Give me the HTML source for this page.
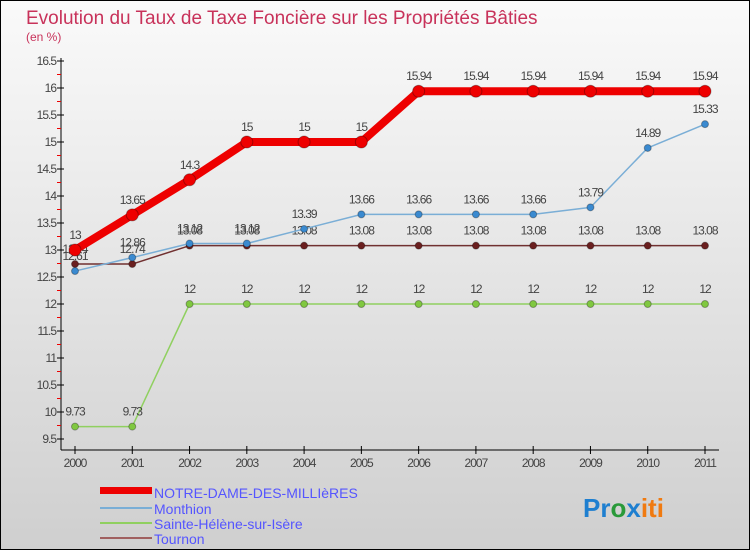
<!DOCTYPE html>
<html><head><meta charset="utf-8"><style>
body{margin:0;}
#c{width:750px;height:550px;position:relative;overflow:hidden;}
text{font-family:"Liberation Sans",sans-serif;}
</style></head><body>
<div id="c">
<svg id="s" width="750" height="550" xmlns="http://www.w3.org/2000/svg">
<defs><linearGradient id="bg" x1="0" y1="0" x2="0" y2="1"><stop offset="0" stop-color="#fafafa"/><stop offset="1" stop-color="#cfcfcf"/></linearGradient></defs>
<rect x="0.5" y="0.5" width="749" height="549" fill="url(#bg)" stroke="#000"/>
<text x="26" y="24" font-size="19" fill="#c8325a">Evolution du Taux de Taxe Foncière sur les Propriétés Bâties</text>
<text x="26" y="41" font-size="12" fill="#c8325a">(en %)</text>
<g id="axes"></g><g id="series"></g>
<g>
<rect x="100" y="487" width="52" height="7" fill="#e00"/>
<text x="154" y="498" font-size="14" fill="#5555ff">NOTRE-DAME-DES-MILLIèRES</text>
<line x1="100" y1="508" x2="152" y2="508" stroke="#7aaed6" stroke-width="2"/>
<text x="154" y="514" font-size="14" fill="#5555ff">Monthion</text>
<line x1="100" y1="523" x2="152" y2="523" stroke="#90d060" stroke-width="2"/>
<text x="154" y="529" font-size="14" fill="#5555ff">Sainte-Hélène-sur-Isère</text>
<line x1="100" y1="538" x2="152" y2="538" stroke="#a06060" stroke-width="2"/>
<text x="154" y="544" font-size="14" fill="#5555ff">Tournon</text>
</g>
<g font-size="26" font-weight="bold">
<text x="583" y="517"><tspan fill="#1e7fd0">Pr</tspan><tspan fill="#2a9a3a">o</tspan><tspan fill="#1e7fd0">x</tspan><tspan fill="#f07a10">iti</tspan></text>
</g>
</svg></div>
<script>
const years=[2000,2001,2002,2003,2004,2005,2006,2007,2008,2009,2010,2011];
const yTicks=[9.5,10,10.5,11,11.5,12,12.5,13,13.5,14,14.5,15,15.5,16,16.5];
const notreDame=[13,13.65,14.3,15,15,15,15.94,15.94,15.94,15.94,15.94,15.94];
const monthion=[12.61,12.86,13.12,13.12,13.39,13.66,13.66,13.66,13.66,13.79,14.89,15.33];
const sainteHelene=[9.73,9.73,12,12,12,12,12,12,12,12,12,12];
const tournon=[12.74,12.74,13.08,13.08,13.08,13.08,13.08,13.08,13.08,13.08,13.08,13.08];
const NS="http://www.w3.org/2000/svg";
function X(i){return 75+i*(705-75)/11;}
function Y(v){return 439-(v-9.5)*(439-61)/7;}
function mk(t,a,p){const e=document.createElementNS(NS,t);for(const k in a)e.setAttribute(k,a[k]);if(p)p.appendChild(e);return e;}
const ax=document.getElementById('axes');
let l=mk('line',{x1:61,y1:58,x2:61,y2:450,stroke:'#000'},ax);


l=mk('line',{x1:61,y1:450,x2:719,y2:450,stroke:'#000'},ax);


yTicks.forEach((v,i)=>{
  mk('line',{x1:57,y1:Y(v),x2:64,y2:Y(v),stroke:'#000'},ax);
  if(i<yTicks.length-1)mk('line',{x1:57,y1:Y(v+0.25),x2:61,y2:Y(v+0.25),stroke:'#e00'},ax);
  const t=mk('text',{x:56,y:Y(v)+4,'font-size':12,fill:'#444','text-anchor':'end','letter-spacing':'-1'},ax);
  t.textContent=String(v);
  
  
});
years.forEach((yr,i)=>{
  mk('line',{x1:X(i),y1:446,x2:X(i),y2:454,stroke:'#000'},ax);
  const t=mk('text',{x:X(i),y:467,'font-size':12,fill:'#444','text-anchor':'middle','letter-spacing':'-1'},ax);
  t.textContent=String(yr);
  
  
});
const sg=document.getElementById('series');
function draw(vals,col,w,r,name,dot){
  const g=mk('g',{},sg);
  
  
  mk('polyline',{points:vals.map((v,i)=>X(i)+','+Y(v)).join(' '),fill:'none',stroke:col,'stroke-width':w,'stroke-linejoin':'round'},g);
  vals.forEach((v,i)=>{
    const c=mk('circle',{cx:X(i),cy:Y(v),r:r,fill:dot,stroke:'rgba(0,0,0,0.3)'},g);
    
    
    const t=mk('text',{x:X(i),y:Y(v)-11,'font-size':12,fill:'#444','text-anchor':'middle','letter-spacing':'-1'},g);
    t.textContent=String(v);
    
    
  });
}
draw(sainteHelene,'#90d060',1.5,3.5,'sainte-helene','#80c840');
draw(tournon,'#703030',1.5,3.5,'tournon','#6a1f1f');
draw(monthion,'#7aaed6',1.5,3.5,'monthion','#3a8ad0');
draw(notreDame,'#ee0000',8,6,'notre-dame','#ee0000');
</script>
</body></html>
